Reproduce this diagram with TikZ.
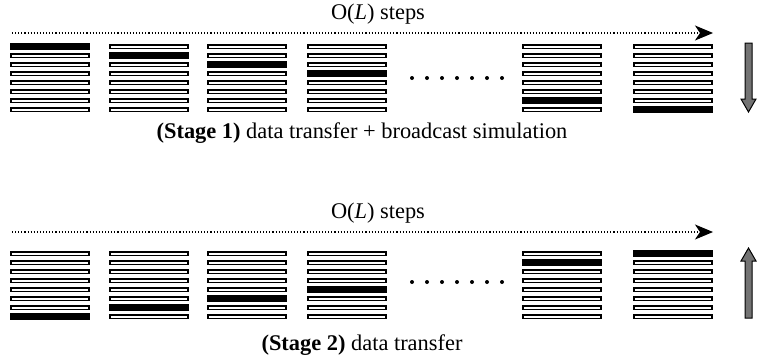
\documentclass[tikz,border=0pt]{standalone}
\usepackage{fontspec}
\setmainfont{Liberation Serif}
\usetikzlibrary{arrows.meta}
\tikzset{
  slot/.style={draw, line width=1.6pt, fill=white},
  busy/.style={fill=black},
  steparrow/.style={dotted, line width=1.1pt, -{Stealth[length=18pt,width=15pt,inset=5pt]}},
  blockarrow/.style={draw, line width=1pt, fill=black!55, line join=miter}
}
\begin{document}
\begin{tikzpicture}[x=1pt,y=-1pt,font=\fontsize{22.4}{26}\selectfont]
                    \useasboundingbox (0,0) rectangle (757,360);
                    % stage 1: the black row moves down
                    \coordinate (topfrom) at (12,33);
                    \coordinate (topto) at (713,33);
                    \draw[steparrow] (topfrom) -- (topto);
                    \node (topsteps) at (378,14) {O(\textit{L}) steps};
                    \foreach \x/\k in {11/1,110/2,208/3,308/4,523/7,634/8} {
                        \foreach \i in {1,...,8}
                            \draw[slot] (\x,{46.5+9*(\i-1)-1.8}) rectangle (\x+78,{46.5+9*(\i-1)+1.8});
                        \fill[busy] (\x-0.8,{46.5+9*(\k-1)-3.2}) rectangle (\x+78.8,{46.5+9*(\k-1)+3.2});
                    }
                    \foreach \d in {0,...,6}
                        \fill (412+15*\d,78) circle (2);
                    \draw[blockarrow] (745,43) -- (752,43) -- (752,99) -- (756,99) -- (748.5,112)
                        -- (741,99) -- (745,99) -- cycle;
                    \node (topcap) at (362,133) {\textbf{(Stage 1)} data transfer + broadcast simulation};
                    % stage 2: the black row moves up
                    \coordinate (botfrom) at (12,232);
                    \coordinate (botto) at (713,232);
                    \draw[steparrow] (botfrom) -- (botto);
                    \node (botsteps) at (378,213) {O(\textit{L}) steps};
                    \foreach \x/\k in {11/8,110/7,208/6,308/5,523/2,634/1} {
                        \foreach \i in {1,...,8}
                            \draw[slot] (\x,{253.5+9*(\i-1)-1.8}) rectangle (\x+78,{253.5+9*(\i-1)+1.8});
                        \fill[busy] (\x-0.8,{253.5+9*(\k-1)-3.2}) rectangle (\x+78.8,{253.5+9*(\k-1)+3.2});
                    }
                    \foreach \d in {0,...,6}
                        \fill (412+15*\d,282) circle (2);
                    \draw[blockarrow] (745,318) -- (752,318) -- (752,261) -- (756,261) -- (748.5,248)
                        -- (741,261) -- (745,261) -- cycle;
                    \node (botcap) at (362,345) {\textbf{(Stage 2)} data transfer};
                \end{tikzpicture}
\end{document}
